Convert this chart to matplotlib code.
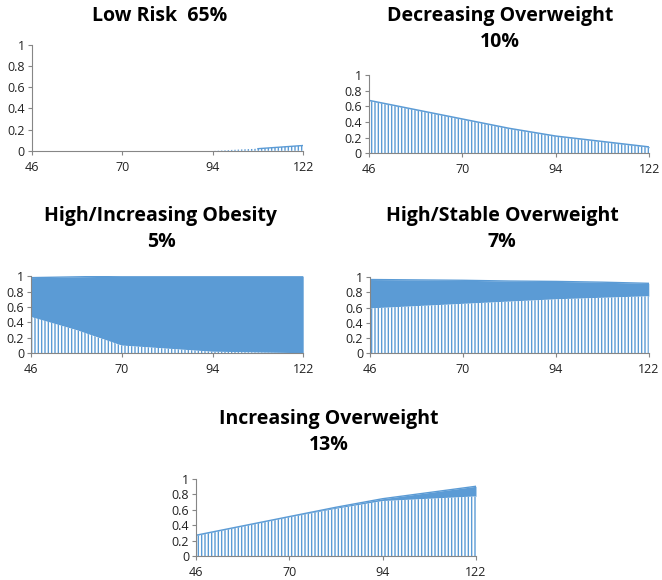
import matplotlib
matplotlib.use("Agg")
import matplotlib.pyplot as plt
import numpy as np

plt.rcParams['font.family'] = ['Open Sans', 'DejaVu Sans']
plt.rcParams['hatch.linewidth'] = 1.0

# x positions are categories (Excel style), labels at evenly spaced ticks
x_pos = [0, 0.5, 1, 1.5, 2, 2.5, 3]
tick_labels = ['46', '70', '94', '122']

titles = ['Low Risk  65%', 'Decreasing Overweight\n10%', 'High/Increasing Obesity\n5%',
          'High/Stable Overweight\n7%', 'Increasing Overweight\n13%']

# overweight (hatched) and overweight+obese (solid top)
ow_low = [0, 0, 0, 0, 0, 0.02, 0.05]
tot_low = [0, 0, 0, 0, 0, 0.02, 0.05]
ow_dec = [0.67, 0.55, 0.43, 0.31, 0.21, 0.14, 0.07]
tot_dec = [0.68, 0.56, 0.44, 0.32, 0.22, 0.15, 0.08]
ow_hio = [0.47, 0.30, 0.10, 0.06, 0.02, 0.01, 0.0]
tot_hio = [0.98, 0.99, 1.0, 1.0, 1.0, 1.0, 1.0]
ow_hso = [0.59, 0.62, 0.65, 0.68, 0.71, 0.73, 0.75]
tot_hso = [0.97, 0.965, 0.96, 0.95, 0.945, 0.935, 0.92]
ow_inc = [0.26, 0.38, 0.50, 0.61, 0.71, 0.74, 0.77]
tot_inc = [0.27, 0.39, 0.51, 0.63, 0.74, 0.82, 0.90]

blue = '#5B9BD5'

# axes rects in figure fraction, title centre (px)
rects = [[0.048, 0.740, 0.410, 0.183],
         [0.557, 0.736, 0.424, 0.134],
         [0.047, 0.391, 0.411, 0.133],
         [0.559, 0.391, 0.421, 0.131],
         [0.296, 0.041, 0.423, 0.134]]
title_xy = [(160, 16), (500, 29), (161, 229), (502, 229), (329, 432)]
data = [(ow_low, tot_low), (ow_dec, tot_dec), (ow_hio, tot_hio),
        (ow_hso, tot_hso), (ow_inc, tot_inc)]

fig = plt.figure(figsize=(6.62, 5.8), dpi=100)

for i in range(5):
    ax = fig.add_axes(rects[i])
    ow, tot = data[i]
    ax.fill_between(x_pos, ow, tot, color=blue, lw=0)
    ax.fill_between(x_pos, 0, ow, facecolor='white', edgecolor=blue, hatch='|||||', lw=0)
    top = np.where(np.array(tot) > 0.01, tot, np.nan)
    ax.plot(x_pos, top, color=blue, lw=1)
    ax.set_xlim(0, 3)
    ax.set_ylim(0, 1)
    ax.set_xticks([0, 1, 2, 3])
    ax.set_xticklabels(tick_labels)
    ax.set_yticks([0, 0.2, 0.4, 0.6, 0.8, 1])
    ax.set_yticklabels(['0', '0.2', '0.4', '0.6', '0.8', '1'])
    for s in ['top', 'right']:
        ax.spines[s].set_visible(False)
    for s in ['left', 'bottom']:
        ax.spines[s].set_color('#868686')
        ax.spines[s].set_linewidth(0.8)
    ax.tick_params(axis='both', colors='#868686', labelcolor='#222222', labelsize=9,
                   length=3, width=0.8, pad=2)
    ax.tick_params(axis='x', pad=4)
    fig.text(title_xy[i][0] / 662, 1 - title_xy[i][1] / 580, titles[i], ha='center', va='center',
             fontsize=14, fontweight='bold', linespacing=1.45)

fig.savefig('out.png', dpi=100)
